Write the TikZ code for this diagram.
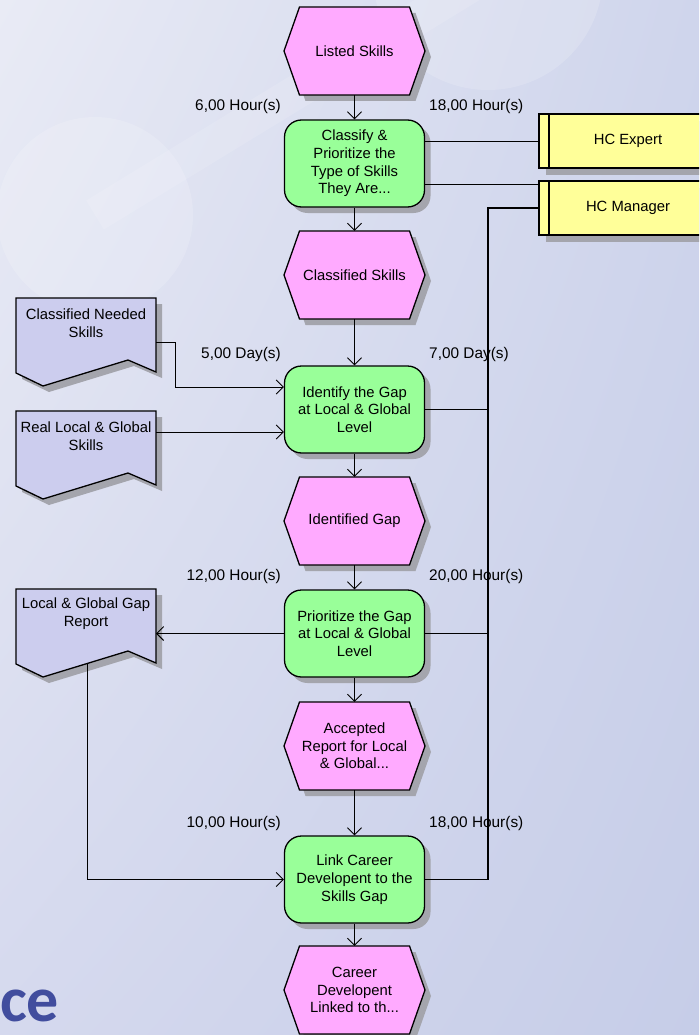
\documentclass[tikz,border=0pt]{standalone}
\usepackage{fontspec}
\setmainfont{Liberation Sans}
\newfontfamily\markfont{Carlito}
\usetikzlibrary{arrows.meta,calc,shadows,shadings}

\definecolor{evpink}{HTML}{FFAAFF}
\definecolor{fngreen}{HTML}{99FF99}
\definecolor{roleyellow}{HTML}{FFFF99}
\definecolor{docblue}{HTML}{CCCDEE}
\definecolor{shadowgray}{HTML}{A4A5AD}
\definecolor{bgA}{HTML}{E9EBF5}
\definecolor{bgB}{HTML}{C6CDE8}
\definecolor{bgC}{HTML}{D5D9EE}
\definecolor{bgD}{HTML}{CFD5EC}
\definecolor{markblue}{HTML}{414D9E}

\newcommand\nodefont{\fontsize{14.8}{17.7}\selectfont}
\newcommand\lblfont{\fontsize{15.4}{18}\selectfont}

% outlines of the event hexagon and the document shape
\def\hexpath{(-55,-44) -- (55,-44) -- (70.5,0) -- (55,44) -- (-55,44) -- (-70.5,0) -- cycle}
\def\docpath{(0,0) -- (140,0) -- (140,74) -- (112,62) -- (27,88) -- (0,75) -- cycle}

\tikzset{
  outline/.style={draw=black, line width=1.3pt, line join=miter},
  evshape/.style={outline, fill=evpink},
  docshape/.style={outline, fill=docblue},
  shadowfill/.style={fill=shadowgray},
  evtext/.style={inner sep=0pt, minimum width=141pt, minimum height=88pt, align=center, font=\nodefont},
  fnbox/.style={outline, fill=fngreen, rounded corners=17pt, minimum width=140pt,
    minimum height=87pt, inner sep=0pt, align=center, font=\nodefont,
    drop shadow={shadow xshift=6pt, shadow yshift=-6pt, fill=shadowgray, opacity=1}},
  rolebox/.style={outline, fill=roleyellow, minimum width=178pt, minimum height=54pt,
    inner sep=0pt, font=\nodefont,
    drop shadow={shadow xshift=7pt, shadow yshift=-7pt, fill=shadowgray, opacity=1},
    path picture={\draw[line width=1.3pt]
      ([xshift=10pt]path picture bounding box.north west) --
      ([xshift=10pt]path picture bounding box.south west);}},
  doctext/.style={align=center, inner sep=0pt, font=\nodefont},
  timelbl/.style={inner sep=0pt, font=\lblfont},
  conn/.style={draw=black, line width=0.9pt},
  flow/.style={conn, -{Straight Barb[length=7pt,width=14pt]}},
  bus/.style={draw=black, line width=1.8pt},
}

% event: name, x, y, text
\newcommand\evnode[4]{%
  \begin{scope}[shift={(#2,#3)}]
    \fill[shadowfill, shift={(6,6)}] \hexpath;
    \filldraw[evshape] \hexpath;
  \end{scope}
  \node[evtext] (#1) at (#2,#3) {#4};}

% document: name, left x, top y, text
\newcommand\docnode[4]{%
  \coordinate (#1) at (#2,#3);
  \begin{scope}[shift={(#2,#3)}]
    \fill[shadowfill, shift={(6,6)}] \docpath;
    \filldraw[docshape] \docpath;
  \end{scope}
  \node[doctext] (#1-text) at (#2+70,#3+25) {#4};}

\begin{document}
\begin{tikzpicture}[x=1pt, y=-1pt]
\useasboundingbox (0,0) rectangle (699,1035);
\clip (0,0) rectangle (699,1035);

% backdrop with its faint emblem
\shade[upper left=bgA, upper right=bgD, lower left=bgC, lower right=bgB] (0,0) rectangle (699,1035);
\fill[white, opacity=0.16] (488,-25) circle[radius=115];
\fill[white, opacity=0.16] (95,215) circle[radius=98];
\draw[white, opacity=0.12, line width=34pt] (95,215) -- (488,-25);
\node[font=\markfont\bfseries\fontsize{64}{64}\selectfont, text=markblue,
  anchor=base west, inner sep=0pt] (mark) at (0,1021) {ce};

% roles
\node[rolebox] (he) at (628,141) {HC Expert};
\node[rolebox] (hm) at (628,208) {HC Manager};

% documents
\docnode{cns}{16}{298}{Classified Needed\\Skills}
\docnode{rls}{16}{411}{Real Local \& Global\\Skills}
\docnode{glr}{16}{589}{Local \& Global Gap\\Report}

% events
\evnode{ls}{354.5}{51}{Listed Skills}
\evnode{cs}{354.5}{275}{Classified Skills}
\evnode{ig}{354.5}{521}{Identified Gap}
\evnode{ar}{354.5}{746}{Accepted\\Report for Local\\\& Global...}
\evnode{cd}{354.5}{990}{Career\\Developent\\Linked to th...}

% functions
\node[fnbox] (cl) at (354.5,163.5) {Classify \&\\Prioritize the\\Type of Skills\\They Are...};
\node[fnbox] (id) at (354.5,409.5) {Identify the Gap\\at Local \& Global\\Level};
\node[fnbox] (pr) at (354.5,633.5) {Prioritize the Gap\\at Local \& Global\\Level};
\node[fnbox] (lk) at (354.5,879.5) {Link Career\\Developent to the\\Skills Gap};

% processing times
\node[timelbl, anchor=east] (t1a) at (281,107) {6,00 Hour(s)};
\node[timelbl, anchor=west] (t1b) at (429,107) {18,00 Hour(s)};
\node[timelbl, anchor=east] (t2a) at (281,355) {5,00 Day(s)};
\node[timelbl, anchor=west] (t2b) at (429,355) {7,00 Day(s)};
\node[timelbl, anchor=east] (t3a) at (281,577) {12,00 Hour(s)};
\node[timelbl, anchor=west] (t3b) at (429,577) {20,00 Hour(s)};
\node[timelbl, anchor=east] (t4a) at (281,824) {10,00 Hour(s)};
\node[timelbl, anchor=west] (t4b) at (429,824) {18,00 Hour(s)};

% control flow
\draw[flow] (ls.south) -- (cl.north);
\draw[flow] (cl.south) -- (cs.north);
\draw[flow] (cs.south) -- (id.north);
\draw[flow] (id.south) -- (ig.north);
\draw[flow] (ig.south) -- (pr.north);
\draw[flow] (pr.south) -- (ar.north);
\draw[flow] (ar.south) -- (lk.north);
\draw[flow] (lk.south) -- (cd.north);

% information inputs and outputs
\draw[flow] ($(cns)+(140,44)$) -- ++(19,0) |- ($(id.west)+(0,-22.5)$);
\draw[flow] ($(rls)+(140,21)$) -- ($(id.west)+(0,22.5)$);
\draw[flow] (pr.west) -- (pr.west -| {$(glr)+(140,0)$});
\draw[flow] ($(glr)+(71,74.5)$) |- (lk.west);

% organisational links
\draw[conn] (cl.east |- he.west) -- (he.west);
\coordinate (hmTop) at ($(hm.north west)+(0,4)$);
\draw[conn] (cl.east |- hmTop) -- (hmTop);
\coordinate (busEnd) at (488,879.5);
\draw[bus] (hm.west) -| (busEnd);
\draw[conn] (id.east) -- (id.east -| busEnd);
\draw[conn] (pr.east) -- (pr.east -| busEnd);
\draw[conn] (lk.east) -- (busEnd);
\end{tikzpicture}
\end{document}
